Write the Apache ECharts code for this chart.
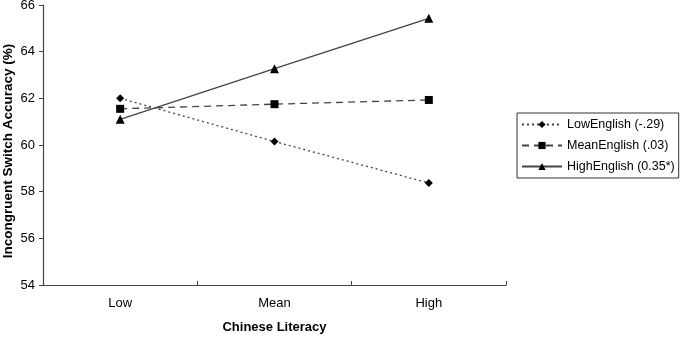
<!DOCTYPE html>
<html><head><meta charset="utf-8">
<script src="https://cdn.jsdelivr.net/npm/echarts@6/dist/echarts.min.js"></script>
<style>html,body{margin:0;padding:0;background:#fff}#c{width:680px;height:337px}</style>
</head><body><div id="c"></div>
<script>
const categories = ['Low', 'Mean', 'High'];
const lowEnglish = [62.0, 60.15, 58.37];
const meanEnglish = [61.55, 61.75, 61.93];
const highEnglish = [61.1, 63.27, 65.43];
const seriesNames = ['LowEnglish (-.29)', 'MeanEnglish (.03)', 'HighEnglish (0.35*)'];
const yTicks = [54, 56, 58, 60, 62, 64, 66];

const font = '"Liberation Sans", Arial, sans-serif';
const chart = echarts.init(document.getElementById('c'), null, {renderer: 'canvas'});
function mk(name, data, sym, lineType, size) {
  return {
    name: name, type: 'line', data: data, symbol: sym, symbolSize: size,
    itemStyle: {color: '#000'},
    lineStyle: {color: '#444', width: 1.3, type: lineType},
    animation: false
  };
}
chart.setOption({
  animation: false,
  grid: {left: 43, right: 174, top: 5, bottom: 52, outerBoundsMode: 'none', containLabel: false},
  xAxis: {
    type: 'category', data: categories, boundaryGap: true,
    name: 'Chinese Literacy', nameLocation: 'middle', nameGap: 36, nameMoveOverlap: false,
    nameTextStyle: {fontFamily: font, fontWeight: 'bold', fontSize: 13, color: '#000'},
    axisLine: {lineStyle: {color: '#444', width: 1.2}},
    axisTick: {show: true, inside: true, length: 4, lineStyle: {color: '#444'}},
    axisLabel: {fontFamily: font, fontSize: 13, color: '#000', margin: 12}
  },
  yAxis: {
    type: 'value', min: 54, max: 66, interval: 2,
    name: 'Incongruent Switch Accuracy (%)', nameLocation: 'middle', nameGap: 28, nameMoveOverlap: false,
    nameTextStyle: {fontFamily: font, fontWeight: 'bold', fontSize: 13.5, color: '#000', padding: [0, 12, 0, 0]},
    axisLine: {show: true, lineStyle: {color: '#444', width: 1.2}},
    axisTick: {show: true, length: 4, lineStyle: {color: '#444'}},
    splitLine: {show: false},
    axisLabel: {fontFamily: font, fontSize: 13, color: '#000', margin: 8,
      formatter: v => yTicks.includes(v) ? String(v) : ''}
  },
  legend: {
    orient: 'vertical', left: 517, top: 113,
    padding: [5, 4, 5, 4], itemGap: 8,
    itemWidth: 40, itemHeight: 9,
    borderColor: '#333', borderWidth: 1,
    textStyle: {fontFamily: font, fontSize: 12.5, color: '#000'},
    data: seriesNames
  },
  series: [
    mk(seriesNames[0], lowEnglish, 'diamond', [2, 3], 8),
    mk(seriesNames[1], meanEnglish, 'rect', [7, 5], 8),
    mk(seriesNames[2], highEnglish, 'triangle', 'solid', 9)
  ]
});
</script></body></html>
